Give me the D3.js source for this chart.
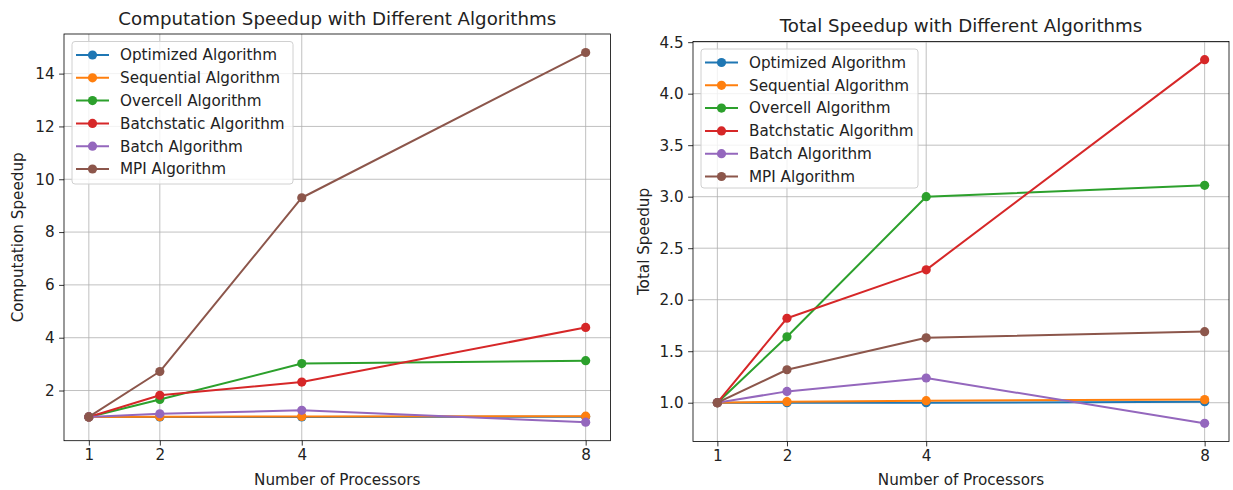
<!DOCTYPE html>
<html>
<head>
<meta charset="utf-8">
<script src="https://cdn.jsdelivr.net/npm/d3@7"></script>
<style>
  body { margin: 0; background: #fff; }
  svg { display: block; }
  text { font-family: "DejaVu Sans", sans-serif; fill: #222; }
</style>
</head>
<body>
<svg id="chart" width="1233" height="490"></svg>
<script>
// ---------- DATA ----------
const processors = [1, 2, 4, 8];
const seriesNames = ["Optimized Algorithm", "Sequential Algorithm", "Overcell Algorithm",
                     "Batchstatic Algorithm", "Batch Algorithm", "MPI Algorithm"];
const colors = ["#1f77b4", "#ff7f0e", "#2ca02c", "#d62728", "#9467bd", "#8c564b"];

// Computation speedup (left chart)
const compOptimized   = [1.0, 1.0, 1.0, 1.01];
const compSequential  = [1.0, 1.01, 1.02, 1.03];
const compOvercell    = [1.0, 1.66, 3.02, 3.13];
const compBatchstatic = [1.0, 1.82, 2.32, 4.39];
const compBatch       = [1.0, 1.12, 1.25, 0.8];
const compMPI         = [1.0, 2.72, 9.3, 14.8];

// Total speedup (right chart)
const totOptimized   = [1.0, 1.0, 1.0, 1.01];
const totSequential  = [1.0, 1.01, 1.02, 1.03];
const totOvercell    = [1.0, 1.64, 3.0, 3.11];
const totBatchstatic = [1.0, 1.82, 2.29, 4.33];
const totBatch       = [1.0, 1.11, 1.24, 0.8];
const totMPI         = [1.0, 1.32, 1.63, 1.69];

const leftYTicks  = [2, 4, 6, 8, 10, 12, 14];
const rightYTicks = [1.0, 1.5, 2.0, 2.5, 3.0, 3.5, 4.0, 4.5];

// ---------- DRAW ----------
const svg = d3.select("#chart");
const FS = 15.2, TFS = 18.2;

function panel(cfg) {
  const { left, right, top, bottom, series, yTicks, yFmt, title, titleY, ylabel, ylabelX, legend } = cfg;
  const all = series.flat();
  const [ymin, ymax] = d3.extent(all);
  const ym = (ymax - ymin) * 0.05;
  const x = d3.scaleLinear().domain([1 - 0.35, 8 + 0.35]).range([left, right]);
  const y = d3.scaleLinear().domain([ymin - ym, ymax + ym]).range([bottom, top]);

  const g = svg.append("g");

  // grid
  g.append("g").selectAll("line").data(processors).join("line")
    .attr("x1", d => x(d)).attr("x2", d => x(d)).attr("y1", top).attr("y2", bottom)
    .attr("stroke", "#b0b0b0").attr("stroke-width", 0.8);
  g.append("g").selectAll("line").data(yTicks).join("line")
    .attr("y1", d => y(d)).attr("y2", d => y(d)).attr("x1", left).attr("x2", right)
    .attr("stroke", "#b0b0b0").attr("stroke-width", 0.8);

  // series
  const line = d3.line().x((d, i) => x(processors[i])).y(d => y(d));
  series.forEach((vals, k) => {
    g.append("path").datum(vals).attr("d", line)
      .attr("fill", "none").attr("stroke", colors[k]).attr("stroke-width", 2)
      .attr("stroke-linejoin", "round").attr("stroke-linecap", "square");
    g.append("g").selectAll("circle").data(vals).join("circle")
      .attr("cx", (d, i) => x(processors[i])).attr("cy", d => y(d)).attr("r", 4.6)
      .attr("fill", colors[k]);
  });

  // axes
  const xAxis = d3.axisBottom(x).tickValues(processors).tickSize(4.9).tickPadding(4)
    .tickFormat(d3.format("d"));
  const ax = g.append("g").attr("transform", `translate(0,${bottom})`).call(xAxis);
  const yAxis = d3.axisLeft(y).tickValues(yTicks).tickSize(4.9).tickPadding(4.5)
    .tickFormat(d3.format(yFmt));
  const ay = g.append("g").attr("transform", `translate(${left},0)`).call(yAxis);
  [ax, ay].forEach(a => {
    a.select(".domain").remove();
    a.selectAll(".tick line").attr("stroke", "#000").attr("stroke-width", 0.8);
    a.selectAll(".tick text").attr("font-size", FS).attr("fill", "#222")
      .attr("font-family", "DejaVu Sans, sans-serif");
  });

  // frame
  g.append("rect").attr("x", left).attr("y", top).attr("width", right - left).attr("height", bottom - top)
    .attr("fill", "none").attr("stroke", "#000").attr("stroke-width", 0.8);

  // labels
  g.append("text").attr("x", (left + right) / 2).attr("y", titleY).attr("text-anchor", "middle")
    .attr("font-size", TFS).text(title);
  g.append("text").attr("x", (left + right) / 2).attr("y", 485).attr("text-anchor", "middle")
    .attr("font-size", FS).text("Number of Processors");
  g.append("text").attr("transform", `translate(${ylabelX},${(top + bottom) / 2}) rotate(-90)`)
    .attr("text-anchor", "middle").attr("font-size", FS).text(ylabel);

  // legend
  const lg = g.append("g");
  lg.append("rect").attr("x", legend.x).attr("y", legend.y).attr("width", legend.w).attr("height", legend.h)
    .attr("rx", 3).attr("fill", "#fff").attr("fill-opacity", 0.8)
    .attr("stroke", "#d0d0d0").attr("stroke-width", 1);
  seriesNames.forEach((name, k) => {
    const ry = legend.y + 13.5 + k * 22.8;
    const lx = legend.x + 4;
    lg.append("line").attr("x1", lx).attr("x2", lx + 33).attr("y1", ry).attr("y2", ry)
      .attr("stroke", colors[k]).attr("stroke-width", 2);
    lg.append("circle").attr("cx", lx + 16.5).attr("cy", ry).attr("r", 4.6).attr("fill", colors[k]);
    lg.append("text").attr("x", legend.x + 48).attr("y", ry + 5.3).attr("font-size", FS).text(name);
  });
}

panel({
  left: 64, right: 610.5, top: 34, bottom: 440.7,
  series: [compOptimized, compSequential, compOvercell, compBatchstatic, compBatch, compMPI],
  yTicks: leftYTicks, yFmt: "d",
  title: "Computation Speedup with Different Algorithms", titleY: 25,
  ylabel: "Computation Speedup", ylabelX: 23,
  legend: { x: 72, y: 41.5, w: 221, h: 142.5 }
});

panel({
  left: 693, right: 1229, top: 41.5, bottom: 441.5,
  series: [totOptimized, totSequential, totOvercell, totBatchstatic, totBatch, totMPI],
  yTicks: rightYTicks, yFmt: ".1f",
  title: "Total Speedup with Different Algorithms", titleY: 32,
  ylabel: "Total Speedup", ylabelX: 648.5,
  legend: { x: 701, y: 49, w: 217, h: 139 }
});
</script>
</body>
</html>
